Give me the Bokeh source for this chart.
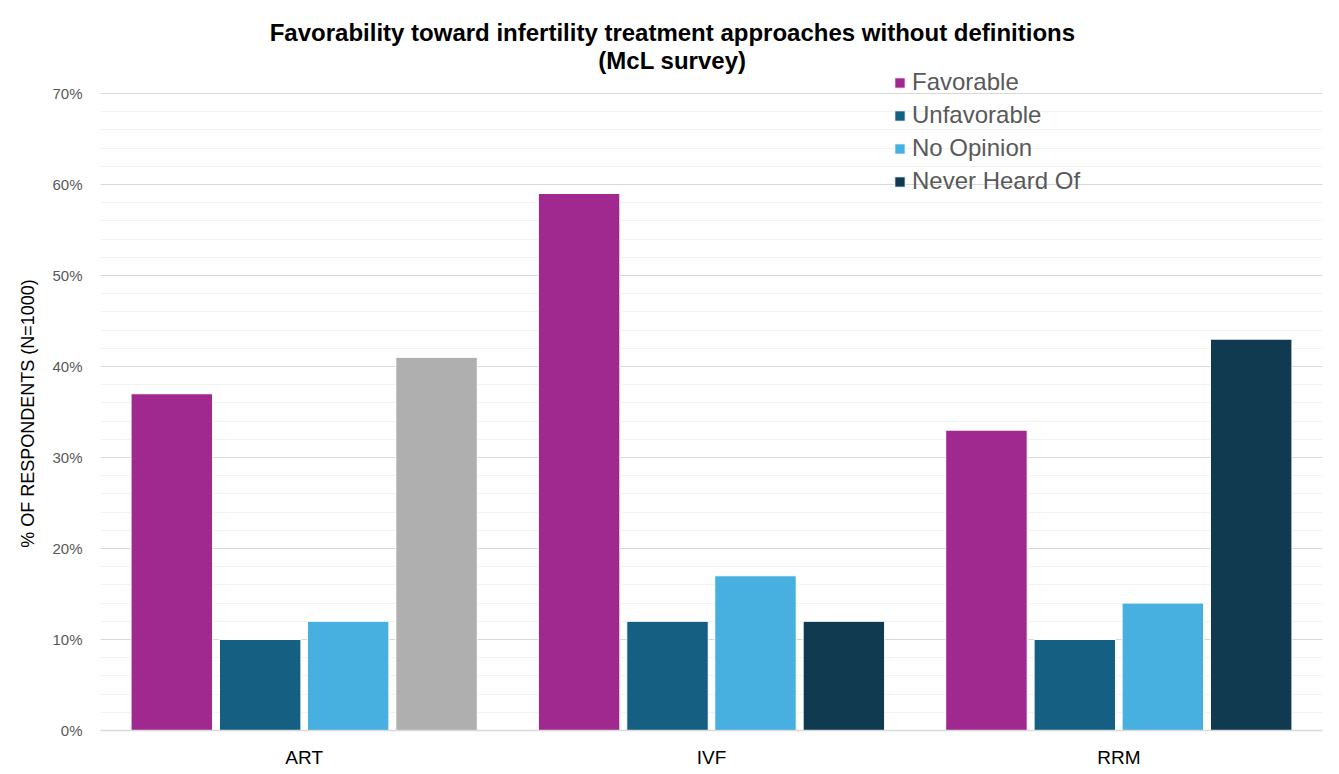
from bokeh.plotting import figure
from bokeh.models import ColumnDataSource, FactorRange, Legend, LegendItem, NumeralTickFormatter, FixedTicker, Label
from bokeh.transform import dodge
from bokeh.embed import file_html
from bokeh.resources import INLINE

categories = ["ART", "IVF", "RRM"]
series = ["Favorable", "Unfavorable", "No Opinion", "Never Heard Of"]
favorable = [0.37, 0.59, 0.33]
unfavorable = [0.10, 0.12, 0.10]
no_opinion = [0.12, 0.17, 0.14]
never_heard = [0.41, 0.12, 0.43]
never_colors = ["#AFAFAF", "#0F3A50", "#0F3A50"]
series_colors = ["#A0298F", "#155F82", "#47B0E0", "#0F3A50"]
y_ticks = [0, 0.1, 0.2, 0.3, 0.4, 0.5, 0.6, 0.7]
title_lines = ["Favorability toward infertility treatment approaches without definitions", "(McL survey)"]
y_label = "% OF RESPONDENTS (N=1000)"

src = ColumnDataSource(dict(cat=categories, fav=favorable, unf=unfavorable,
                            noo=no_opinion, nev=never_heard, nevc=never_colors))

p = figure(width=1339, height=774, x_range=FactorRange(*categories, range_padding=0),
           y_range=(0, 0.79), output_backend="svg", toolbar_location=None,
           min_border_left=100, min_border_right=17, min_border_top=11, min_border_bottom=44)

# title lines drawn inside the (extended) frame
for txt, yv in zip(title_lines, [0.767, 0.736]):
    p.add_layout(Label(x=1.404, y=yv, text=txt, text_align="center", text_baseline="middle",
                       text_font="Liberation Sans", text_font_size="24px",
                       text_font_style="bold", text_color="#000000"))

offs = [-0.325, -0.108, 0.108, 0.325]
fields = ["fav", "unf", "noo", "nev"]
renderers = []
for i, f in enumerate(fields):
    color = "nevc" if f == "nev" else series_colors[i]
    r = p.vbar(x=dodge("cat", offs[i], range=p.x_range), top=f, width=0.2, source=src,
               fill_color=color, line_color="white", line_width=1)
    renderers.append(r)

items = [LegendItem(label=s, renderers=[renderers[i]], index=1) for i, s in enumerate(series)]
legend = Legend(items=items, location=(793, 535), label_text_font="Liberation Sans",
                label_text_font_size="24px", label_text_color="#595959",
                glyph_width=13, glyph_height=13, spacing=5, padding=0, margin=0,
                label_standoff=6, border_line_color=None, background_fill_alpha=0,
                label_height=20)
p.add_layout(legend)

p.yaxis.ticker = FixedTicker(ticks=y_ticks, minor_ticks=[i * 0.02 for i in range(36)])
p.yaxis.formatter = NumeralTickFormatter(format="0%")
p.yaxis.axis_line_color = None
p.yaxis.major_tick_line_color = None
p.yaxis.minor_tick_line_color = None
p.yaxis.major_tick_out = 0
p.yaxis.major_tick_in = 0
p.yaxis.minor_tick_out = 0
p.yaxis.major_label_text_color = "#595959"
p.yaxis.major_label_text_font = "Liberation Sans"
p.yaxis.major_label_text_font_size = "15px"
p.yaxis.major_label_standoff = 18
# trailing no-break spaces keep the label centred on the 0-70% span
p.yaxis.axis_label = y_label + "\u00a0" * 17
p.yaxis.axis_label_text_font = "Liberation Sans"
p.yaxis.axis_label_text_font_size = "18px"
p.yaxis.axis_label_text_font_style = "normal"
p.yaxis.axis_label_text_color = "#000000"
p.yaxis.axis_label_standoff = 11

p.xaxis.axis_line_color = "#D9D9D9"
p.xaxis.axis_line_width = 1.5
p.xaxis.major_tick_line_color = None
p.xaxis.minor_tick_line_color = None
p.xaxis.major_tick_out = 0
p.xaxis.major_tick_in = 0
p.xaxis.major_label_text_font = "Liberation Sans"
p.xaxis.major_label_text_font_size = "19px"
p.xaxis.major_label_text_color = "#000000"
p.xaxis.major_label_standoff = 16

p.xgrid.grid_line_color = None
p.ygrid.grid_line_color = "#D9D9D9"
p.ygrid.minor_grid_line_color = "#F2F2F2"
p.outline_line_color = None
p.border_fill_color = "white"

open("out.html", "w").write(file_html(p, INLINE))
